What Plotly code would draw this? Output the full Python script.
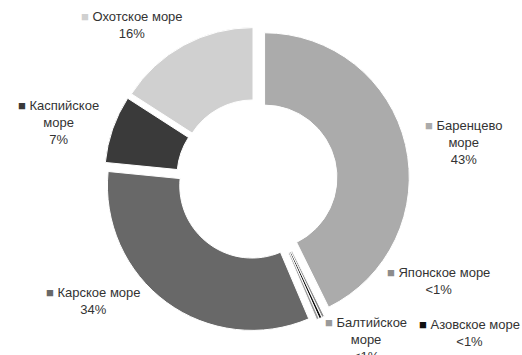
import plotly.graph_objects as go

# Data
seas = ["Баренцево море", "Японское море", "Азовское море", "Балтийское море",
        "Карское море", "Каспийское море", "Охотское море"]
values = [43, 0.3, 0.3, 0.3, 33.2, 7.6, 16]
pct_labels = ["43%", "<1%", "<1%", "<1%", "34%", "7%", "16%"]
label_lines = [["Баренцево", "море"], ["Японское море"], ["Азовское море"],
               ["Балтийское", "море"], ["Карское море"], ["Каспийское", "море"],
               ["Охотское море"]]

colors = ["#ababab", "#8c8c8c", "#111111", "#9a9a9a", "#686868", "#3a3a3a", "#d0d0d0"]

# label anchor positions in pixels (centre of text block)
W, H = 522, 355
label_pos = [(463, 142), (438, 281), (469, 333), (366, 339), (93, 301), (58, 122), (132, 25)]

fig = go.Figure()
fig.add_trace(go.Pie(
    labels=seas, values=values, sort=False, direction="clockwise", rotation=0,
    hole=0.5, pull=[0.055] * len(values),
    marker=dict(colors=colors, line=dict(color="white", width=1)),
    textinfo="none", hoverinfo="label+percent", showlegend=False,
    domain=dict(x=[0.192, 0.792], y=[0.065, 0.925]),
))

for name_lines, pct, col, (px, py) in zip(label_lines, pct_labels, colors, label_pos):
    first = f"<span style='color:{col}'>■</span> " + name_lines[0]
    text = "<br>".join([first] + name_lines[1:] + [pct])
    fig.add_annotation(
        x=px / W, y=1 - py / H, xref="paper", yref="paper",
        text=text, showarrow=False, xanchor="center", yanchor="middle",
        align="center", font=dict(family="Liberation Sans, Arial", size=13, color="#333333"),
    )

fig.update_layout(
    width=W, height=H, margin=dict(l=0, r=0, t=0, b=0),
    paper_bgcolor="white", plot_bgcolor="white",
)
fig.write_html("out.html")
